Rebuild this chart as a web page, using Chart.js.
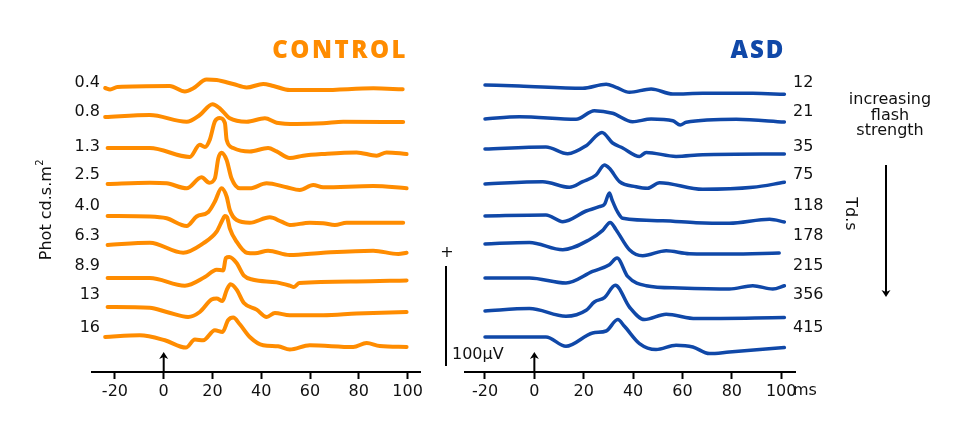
<!DOCTYPE html>
<html><head><meta charset="utf-8">
<script src="https://cdn.jsdelivr.net/npm/chart.js@4.4.1/dist/chart.umd.min.js"></script>
<style>
html,body{margin:0;padding:0;background:#fff;}
#wrap{position:relative;width:971px;height:423px;overflow:hidden;background:#fff;}
canvas{position:absolute;top:0;}
#cL{left:0;width:440px;height:423px;}
#cR{left:440px;width:531px;height:423px;}
</style></head>
<body><div id="wrap"><canvas id="cL" width="440" height="423"></canvas><canvas id="cR" width="531" height="423"></canvas></div>
<script>
// ---- data: [time ms, response µV relative to pre-stimulus level] ----
const ctrl_0_4 = [[-24,0],[-22,-1.5],[-19,1],[2.5,2],[8.7,-3.5],[12,-0.5],[17.6,8.5],[21.7,8],[28.5,4],[34,0.5],[40.8,4],[45,2],[51.7,-2],[65,-2],[86,-0.3],[98,-1.3]];
const ctrl_0_8 = [[-24,0],[-5.7,2],[9.4,-4.7],[14.8,2],[20,12.7],[23,8.7],[27.1,-1.3],[34,-4.7],[41.5,-1.3],[46.3,-5.7],[54.5,-7],[65.4,-6.3],[73.6,-4.7],[98.2,-5]];
const ctrl_1_3 = [[-23,0],[-5.7,0],[10.7,-9],[14.8,3.3],[16.9,1],[18.9,8.3],[21,26.6],[23,30],[25.1,25],[25.8,8.3],[28.5,0],[35.3,-3.4],[42.8,0],[46.3,-3.4],[51.7,-10],[57.2,-7.7],[65.4,-6],[79.1,-4.4],[87.3,-7.7],[91.4,-4.4],[99.6,-6]];
const ctrl_2_5 = [[-23,0],[-5.7,1.3],[1.2,0.7],[9.4,-4.3],[15.5,6.7],[18.7,1.3],[21,5.7],[22.4,25.7],[23.7,31.3],[25.8,24],[27.8,5.7],[31.2,-4.3],[35.3,-4.3],[42.2,0.7],[50.4,-3.3],[55.8,-6],[61.3,-1],[65.4,-3.3],[85.9,-2],[99.6,-4.3]];
const ctrl_4_0 = [[-23,0.5],[-5.7,0],[1.2,-1.8],[9.4,-9.5],[13.5,0],[18.3,4.5],[21,15],[23.7,28.2],[25.8,20],[27.1,6.5],[29.9,-3.5],[35.3,-6.2],[43.5,-0.8],[48.3,-5.2],[51.7,-8.5],[59.9,-6.2],[65.4,-6.7],[70.2,-8.5],[75,-6.2],[98.2,-6.2]];
const ctrl_6_3 = [[-23,-1],[-5.7,1.3],[8,-8.7],[16.2,0.7],[21.7,12.3],[24.1,24],[25.1,28],[26,26.7],[27.1,15.7],[29.9,2.3],[34,-8.7],[37.4,-9.3],[42.8,-6.7],[51.7,-11],[65.4,-8.7],[85.9,-6.7],[96.2,-10],[99.6,-8.7]];
const ctrl_8_9 = [[-23,0],[-5.7,0],[8.7,-7.7],[16.9,1],[21.7,8.3],[24.4,7.6],[25.5,20],[26.9,21],[29.9,15],[32.9,2.3],[36.7,-1.7],[46.3,-4.4],[51.7,-7.7],[53.4,-9],[55.6,-5],[79.1,-3.4],[99.6,-2.4]];
const ctrl_13  = [[-23,0],[-5.7,-0.7],[1.2,-5],[10,-10],[14.8,-5],[19.6,7.4],[21.7,8.4],[24.1,6],[25.8,16.7],[27.4,22.7],[29.9,17.4],[32.9,4],[38.1,-2.6],[42.2,-10],[45.6,-6],[51.7,-8.3],[65.4,-8.3],[79.1,-6.6],[99.6,-5]];
const ctrl_16  = [[-24,0],[-9.8,1.7],[0.5,-3.3],[9.1,-10.6],[12.8,-2.6],[16.2,-3.3],[21,6.7],[24.1,5],[26.4,16.7],[28.5,19.4],[31.2,12.7],[35.3,0],[40.8,-8.3],[46.9,-9.3],[51.7,-12.6],[59.9,-8.3],[77.7,-10],[83.2,-6],[88.6,-9],[99.6,-10]];

const asd_12  = [[-20,0],[-6.1,-1],[19.6,-3.3],[29.1,0.7],[33.1,-2.3],[38.5,-7.3],[47.3,-4],[56.1,-9],[68.2,-8.3],[88.5,-8.3],[101.3,-9.3]];
const asd_21  = [[-20,0],[-6.1,2.3],[16.9,-0.3],[24.3,8.3],[31.7,5.7],[39.8,-2.7],[47.3,0],[56.1,-1.7],[59.1,-6],[61.5,-3.3],[81.8,-0.3],[101.3,-3]];
const asd_35  = [[-20,0],[4.7,2],[13.5,-4.7],[21,3.3],[27.4,16.6],[31.7,6],[35.8,1],[42.6,-7.4],[45.3,-3.4],[57.4,-7.4],[68.2,-5.7],[101.3,-5]];
const asd_75  = [[-20,0],[3.4,2.3],[14.2,-3.3],[19.6,2.3],[25,9],[28.4,19],[30.4,15.7],[34.5,2.3],[41.2,-2.7],[45.9,-4.3],[50.7,1.3],[68.2,-5.3],[88.5,-3.3],[101.3,1.7]];
const asd_118 = [[-20,0],[4.7,1],[11.5,-5.7],[21,5],[26.3,9.3],[28.5,12],[30.4,23],[31.5,16],[33.5,5],[35.8,-2.3],[52,-4.7],[65.5,-6.7],[79,-7.3],[95.3,-3.3],[101.3,-6]];
const asd_178 = [[-20,0],[-2,1.6],[11.5,-5.7],[22.3,4.3],[27.7,13.6],[30.7,21.6],[33.1,14.3],[38.5,-5.7],[43.9,-11.7],[53.4,-6.7],[62.8,-9.7],[79,-10],[99.2,-9]];
const asd_215 = [[-20,0],[-2,0],[12.8,-5],[23.6,6.6],[30.4,13.3],[33.5,20],[37.8,1.6],[45.3,-7.7],[58.8,-10],[79,-11],[88.5,-7.7],[96.6,-11],[101.3,-7.7]];
const asd_356 = [[-20,0],[-2,2.4],[12.8,-5.3],[21,0.7],[24.3,9],[28.4,13.4],[32.8,25.7],[38.5,4],[44.6,-8.6],[53.4,-3.3],[65.5,-7.6],[101.3,-6.6]];
const asd_415 = [[-20,0],[4.7,0],[12.8,-9.3],[23.6,4],[29.1,6],[33.8,17.4],[36.5,10.7],[42.6,-6.6],[49.3,-12.6],[57.4,-8.3],[64.2,-10],[70.9,-16.6],[79,-15],[101.3,-10.6]];

const controlTraces = [ctrl_0_4, ctrl_0_8, ctrl_1_3, ctrl_2_5, ctrl_4_0, ctrl_6_3, ctrl_8_9, ctrl_13, ctrl_16];
const asdTraces = [asd_12, asd_21, asd_35, asd_75, asd_118, asd_178, asd_215, asd_356, asd_415];
const controlLabels = ['0.4','0.8','1.3','2.5','4.0','6.3','8.9','13','16'];   // Phot cd.s.m²
const asdLabels = ['12','21','35','75','118','178','215','356','415'];          // Td.s
const controlOffsets = [284,255,224,188,155.5,128,94,65,35];                  // µV stacking
const asdOffsets = [287,253,223,188,156,128,94,61,35];
const xTicks = [-20,0,20,40,60,80,100];

const ORANGE = '#FF8C00', BLUE = '#1048A8', INK = '#111';
const FONT = '"DejaVu Sans", Verdana, sans-serif';
const ROW_LABEL_Y = [83,112,147,175,206,236,266,295,328];

function makeDatasets(traces, offsets, color, width){
  return traces.map((tr,i)=>({
    data: tr.map(([t,v])=>({x:t, y:v+offsets[i]})),
    borderColor: color, borderWidth: width, pointRadius: 0,
    cubicInterpolationMode: 'monotone', fill: false,
    borderCapStyle: 'round', borderJoinStyle: 'round'
  }));
}

function scalesFor(xmin, xmax){
  return {
    x: {
      type: 'linear', min: xmin, max: xmax,
      afterBuildTicks: ax => { ax.ticks = xTicks.map(v=>({value:v})); },
      afterFit: ax => { ax.height = 51; },
      border: {display: true, color: '#000', width: 2},
      grid: {drawOnChartArea: false, drawTicks: true, tickLength: 7, tickWidth: 2, tickColor: '#000'},
      ticks: {color: INK, font: {family: FONT, size: 16}, padding: 3, maxRotation: 0, autoSkip: false}
    },
    y: {type: 'linear', min: 0, max: 332, display: false}
  };
}

function upArrow(ctx, x, yBottom, yTop){
  ctx.save();
  ctx.strokeStyle = '#000'; ctx.fillStyle = '#000'; ctx.lineWidth = 2;
  ctx.beginPath(); ctx.moveTo(x, yBottom); ctx.lineTo(x, yTop + 4); ctx.stroke();
  ctx.beginPath(); ctx.moveTo(x, yTop); ctx.lineTo(x - 4.5, yTop + 7); ctx.lineTo(x, yTop + 5); ctx.lineTo(x + 4.5, yTop + 7); ctx.closePath(); ctx.fill();
  ctx.restore();
}

const leftDeco = {
  id: 'leftDeco',
  afterDraw(chart){
    const ctx = chart.ctx, xs = chart.scales.x;
    ctx.save();
    ctx.fillStyle = INK; ctx.font = '16px ' + FONT; ctx.textAlign = 'right'; ctx.textBaseline = 'middle';
    controlLabels.forEach((l,i)=> ctx.fillText(l, 100, ROW_LABEL_Y[i]));
    // axis label
    ctx.save();
    ctx.translate(47, 210); ctx.rotate(-Math.PI/2);
    ctx.textAlign = 'left';
    const main = 'Phot cd.s.m';
    const w = ctx.measureText(main).width;
    ctx.font = '10px ' + FONT;
    const w2 = ctx.measureText('2').width;
    const start = -(w + w2)/2;
    ctx.font = '16px ' + FONT;
    ctx.fillText(main, start, 0);
    ctx.font = '10px ' + FONT;
    ctx.fillText('2', start + w + 0.5, -7);
    ctx.restore();
    // title
    ctx.fillStyle = ORANGE; ctx.font = '800 24px "Open Sans", sans-serif'; ctx.textAlign = 'right';
    try { ctx.letterSpacing = '2.5px'; } catch(e) {}
    ctx.fillText('CONTROL', 408, 51);
    try { ctx.letterSpacing = '0px'; } catch(e) {}
    ctx.restore();
    upArrow(ctx, xs.getPixelForValue(0), chart.chartArea.bottom, 352);
  }
};

const rightDeco = {
  id: 'rightDeco',
  afterDraw(chart){
    const ctx = chart.ctx, xs = chart.scales.x, ys = chart.scales.y;
    ctx.save();
    ctx.fillStyle = INK; ctx.font = '16px ' + FONT; ctx.textAlign = 'left'; ctx.textBaseline = 'middle';
    asdLabels.forEach((l,i)=> ctx.fillText(l, 353, ROW_LABEL_Y[i]));
    // ms unit
    ctx.fillText('ms', 353, chart.chartArea.bottom + 19);
    // scale bar
    ctx.strokeStyle = '#000'; ctx.lineWidth = 2;
    ctx.beginPath(); ctx.moveTo(6, ys.getPixelForValue(6)); ctx.lineTo(6, ys.getPixelForValue(106)); ctx.stroke();
    ctx.textAlign = 'center';
    ctx.fillText('+', 7, 253);
    ctx.textAlign = 'left';
    ctx.fillText('100\u00B5V', 12, 355);
    // side text
    ctx.textAlign = 'center';
    ctx.fillText('increasing', 450, 100);
    ctx.fillText('flash', 450, 116);
    ctx.fillText('strength', 450, 131);
    // down arrow
    ctx.beginPath(); ctx.moveTo(446, 165); ctx.lineTo(446, 292); ctx.stroke();
    ctx.fillStyle = '#000';
    ctx.beginPath(); ctx.moveTo(446, 297); ctx.lineTo(441.5, 290); ctx.lineTo(446, 292); ctx.lineTo(450.5, 290); ctx.closePath(); ctx.fill();
    // Td.s
    ctx.save();
    ctx.fillStyle = INK;
    ctx.translate(410, 214); ctx.rotate(Math.PI/2);
    ctx.textAlign = 'center';
    ctx.fillText('Td.s', 0, 0);
    ctx.restore();
    // title
    ctx.fillStyle = BLUE; ctx.font = '800 24px "Open Sans", sans-serif'; ctx.textAlign = 'center';
    try { ctx.letterSpacing = '2px'; } catch(e) {}
    ctx.fillText('ASD', 318, 51);
    try { ctx.letterSpacing = '0px'; } catch(e) {}
    ctx.restore();
    upArrow(ctx, xs.getPixelForValue(0), chart.chartArea.bottom, 352);
  }
};

const common = {
  responsive: false, animation: false, devicePixelRatio: 1,
  plugins: {legend: {display: false}, tooltip: {enabled: false}},
  elements: {line: {tension: 0}}
};

new Chart(document.getElementById('cL'), {
  type: 'line',
  data: {datasets: makeDatasets(controlTraces, controlOffsets, ORANGE, 4)},
  options: Object.assign({}, common, {
    layout: {padding: {left: 92, right: 20, top: 40, bottom: 0}},
    scales: scalesFor(-29.4, 105.1)
  }),
  plugins: [leftDeco]
});

new Chart(document.getElementById('cR'), {
  type: 'line',
  data: {datasets: makeDatasets(asdTraces, asdOffsets, BLUE, 3.5)},
  options: Object.assign({}, common, {
    layout: {padding: {left: 25, right: 176, top: 40, bottom: 0}},
    scales: scalesFor(-28.1, 105.6)
  }),
  plugins: [rightDeco]
});
</script>
</body></html>
